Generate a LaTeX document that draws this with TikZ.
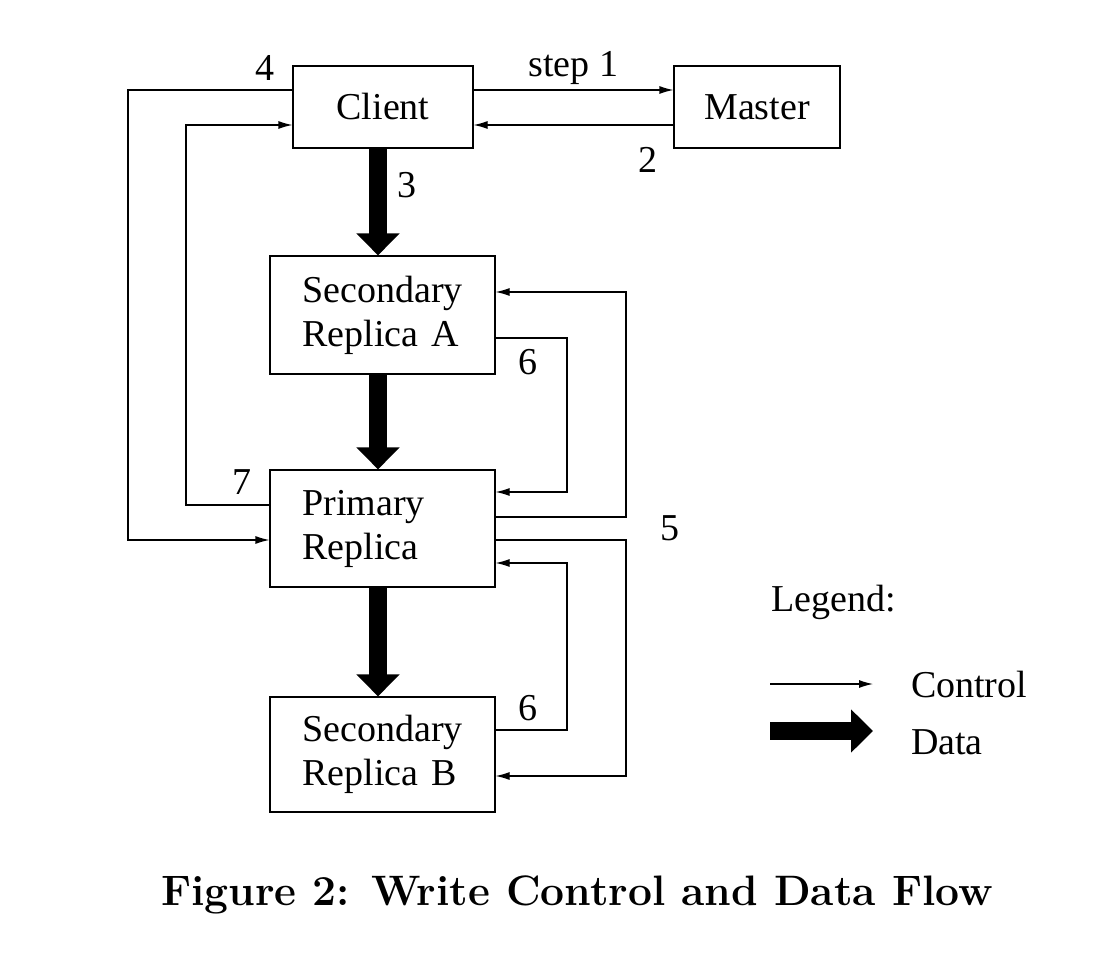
\documentclass[tikz,border=0pt]{standalone}
\usepackage{fontspec}
\newfontfamily\tms{Liberation Serif}
\usetikzlibrary{arrows.meta, positioning}

\begin{document}
\begin{tikzpicture}[x=0.5pt, y=-0.5pt,
  every node/.style={font=\tms\fontsize{19}{22}\selectfont},
  box/.style={draw, line width=0.6pt, align=left, inner sep=0pt},
  rep/.style={box, minimum width=112.5pt, text width=80pt, inner xsep=16.25pt},
  ctrl/.style={-{Latex[length=7pt, width=4pt]}, line width=0.6pt},
  data/.style={-{Triangle[length=11pt, width=21pt]}, line width=9pt}]
  \useasboundingbox (0,0) rectangle (1096,972);
  % boxes
  \node[box, minimum width=90pt, minimum height=41pt] (client) at (383,107) {Client};
  \node[box, minimum width=83pt, minimum height=41pt] (master) at (757,107) {Master};
  \node[rep, minimum height=59pt] (seca) at (382.5,315) {Secondary\\Replica A};
  \node[rep, minimum height=58.5pt] (prim) at (382.5,528.5) {Primary\\Replica};
  \node[rep, minimum height=57.5pt] (secb) at (382.5,754.5) {Secondary\\Replica B};

  % data flow
  \draw[data] (client.south -| 378,0) -- (seca.north -| 378,0);
  \node (l3) at (407,185) {3};
  \draw[data] (seca.south -| 378,0) -- (prim.north -| 378,0);
  \draw[data] (prim.south -| 378,0) -- (secb.north -| 378,0);

  % control flow
  \draw[ctrl] (client.east |- 0,90) -- (master.west |- 0,90)
    node[pos=0.5, above=-1pt] {step 1};
  \draw[ctrl] (master.west |- 0,125) -- (client.east |- 0,125);
  \node (l2) at (648,160) {2};
  \draw[ctrl] (client.west |- 0,90) -| (128,540) -- (prim.west |- 0,540);
  \node (l4) at (265,68) {4};
  \draw[ctrl] (prim.west |- 0,505) -| (186,125) -- (client.west |- 0,125);
  \node (l7) at (242,482) {7};
  \draw[ctrl] (prim.east |- 0,517) -| (626,292) -- (seca.east |- 0,292);
  \draw[ctrl] (prim.east |- 0,540) -| (626,776) -- (secb.east |- 0,776);
  \node (l5) at (670,528) {5};
  \draw[ctrl] (seca.east |- 0,338) -| (567,492) -- (prim.east |- 0,492);
  \node (l6a) at (528,362) {6};
  \draw[ctrl] (secb.east |- 0,730) -| (567,563) -- (prim.east |- 0,563);
  \node (l6b) at (528,708) {6};

  % legend
  \node[anchor=west] (legend) at (764,602) {Legend:};
  \coordinate (c1) at (770,684);
  \coordinate (c2) at (873,684);
  \draw[ctrl] (c1) -- (c2);
  \node[anchor=west] (lctrl) at (904,684) {Control};
  \coordinate (d1) at (770,731);
  \coordinate (d2) at (873,731);
  \draw[data] (d1) -- (d2);
  \node[anchor=west] (ldata) at (904,742) {Data};

  % caption
  \node[font=\bfseries\fontsize{21.3}{25}\selectfont] (caption) at (577,895)
    {Figure 2: Write Control and Data Flow};
\end{tikzpicture}
\end{document}
